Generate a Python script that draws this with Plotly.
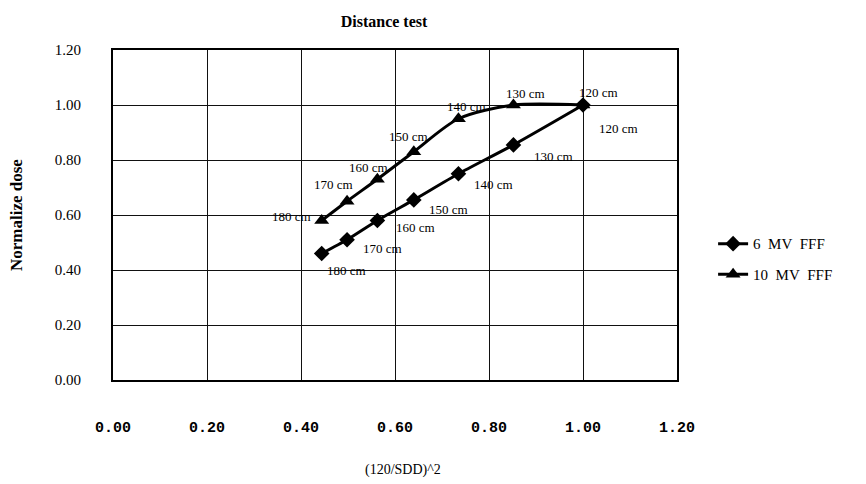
import plotly.graph_objects as go

# data
sdd_labels = ["180 cm", "170 cm", "160 cm", "150 cm", "140 cm", "130 cm", "120 cm"]
x_ratio = [0.444, 0.498, 0.5625, 0.640, 0.735, 0.852, 1.000]
dose_6mv = [0.46, 0.51, 0.58, 0.655, 0.75, 0.855, 1.00]
dose_10mv = [0.58, 0.65, 0.73, 0.83, 0.95, 1.00, 1.00]
x_ticks = [0.0, 0.2, 0.4, 0.6, 0.8, 1.0, 1.2]
y_ticks = [0.0, 0.2, 0.4, 0.6, 0.8, 1.0, 1.2]
series_names = ["6 MV FFF", "10 MV FFF"]

# label offsets in px (dx, dy upward)
off_10 = [(-30, 4), (-14, 17), (-9, 12), (-5, 15), (8, 12), (12, 12), (15, 13)]
off_6 = [(25, -17), (35, -9), (38, -7), (35, -10), (35, -11), (40, -12), (35, -23)]

SERIF = "Liberation Serif, Times New Roman, serif"


def spaced(name):
    # the original legend sets its words wide apart
    return name.replace(" ", "&nbsp; ")


fig = go.Figure()
fig.add_trace(go.Scatter(
    x=x_ratio, y=dose_6mv, mode="lines+markers", name=spaced(series_names[0]),
    line={"color": "black", "width": 3, "shape": "spline", "smoothing": 0.6},
    marker={"symbol": "diamond", "size": 12, "color": "black"},
    legendgroup="a",
))
fig.add_trace(go.Scatter(
    x=x_ratio, y=dose_10mv, mode="lines+markers", name=spaced(series_names[1]),
    line={"color": "black", "width": 3, "shape": "spline", "smoothing": 0.8},
    marker={"symbol": "triangle-up", "size": 13, "color": "black"},
    legendgroup="b",
))

annotations = []
for lab, xv, yv, (dx, dy) in zip(sdd_labels, x_ratio, dose_10mv, off_10):
    annotations.append(dict(x=xv, y=yv, text=lab, showarrow=False, xshift=dx, yshift=dy,
                            font={"family": SERIF, "size": 13, "color": "black"}))
for lab, xv, yv, (dx, dy) in zip(sdd_labels, x_ratio, dose_6mv, off_6):
    annotations.append(dict(x=xv, y=yv, text=lab, showarrow=False, xshift=dx, yshift=dy,
                            font={"family": SERIF, "size": 13, "color": "black"}))

annotations.append(dict(
    x=0.0, y=0.5, xref="paper", yref="paper", xanchor="center", yanchor="middle",
    xshift=-97, text="<b>Normalize dose</b>",
    textangle=-90, showarrow=False, font={"family": SERIF, "size": 17, "color": "black"},
))
annotations.append(dict(
    x=0.5, y=0.0, xref="paper", yref="paper", xanchor="center", yanchor="middle",
    xshift=8, yshift=-90, text="(120/SDD)^2",
    showarrow=False, font={"family": SERIF, "size": 14, "color": "black"},
))

fig.update_layout(
    width=866, height=484,
    paper_bgcolor="white", plot_bgcolor="white",
    margin={"l": 113, "r": 189, "t": 50, "b": 104, "autoexpand": False},
    title={"text": "<b>Distance test</b>", "x": 384 / 866, "xanchor": "center",
           "y": 1 - 21 / 484, "yanchor": "middle",
           "font": {"family": SERIF, "size": 16, "color": "black"}},
    xaxis={"range": [0, 1.2], "tickvals": x_ticks, "tickformat": ".2f",
           "showgrid": True, "gridcolor": "#111", "gridwidth": 1.3,
           "showline": True, "linecolor": "black", "linewidth": 2, "mirror": True,
           "zeroline": False, "ticks": "", "ticklabelstandoff": 32, "automargin": False,
           "tickfont": {"family": "Liberation Mono, Courier New, monospace", "size": 15,
                        "color": "black", "weight": "bold"}},
    yaxis={"range": [0, 1.2], "tickvals": y_ticks, "tickformat": ".2f",
           "showgrid": True, "gridcolor": "#111", "gridwidth": 1.3,
           "showline": True, "linecolor": "black", "linewidth": 2, "mirror": True,
           "zeroline": False, "ticks": "", "ticklabelstandoff": 27, "automargin": False,
           "tickfont": {"family": SERIF, "size": 15, "color": "black"}},
    legend={"x": 1.064, "xanchor": "left", "y": 0.367, "yanchor": "middle",
            "tracegroupgap": 8, "font": {"family": SERIF, "size": 15, "color": "black"},
            "bgcolor": "rgba(0,0,0,0)", "itemwidth": 30},
    annotations=annotations,
    showlegend=True,
)

# drop the default 8px body margin so the figure sits at the window origin
fig.write_html("out.html", config={"displayModeBar": False},
               post_script="document.body.style.margin='0';")
